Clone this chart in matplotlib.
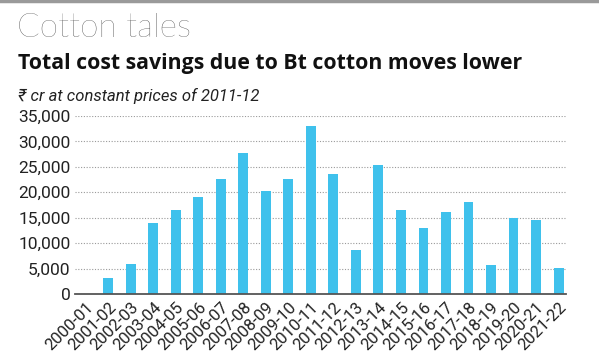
import matplotlib
matplotlib.use("Agg")
import matplotlib.pyplot as plt
from matplotlib.lines import Line2D

years = ["2000-01", "2001-02", "2002-03", "2003-04", "2004-05", "2005-06",
         "2006-07", "2007-08", "2008-09", "2009-10", "2010-11", "2011-12",
         "2012-13", "2013-14", "2014-15", "2015-16", "2016-17", "2017-18",
         "2018-19", "2019-20", "2020-21", "2021-22"]
savings = [0, 3100, 5900, 14000, 16500, 19100, 22700, 27700, 20300, 22700,
           33000, 23500, 8700, 25300, 16600, 13000, 16200, 18000, 5800,
           15000, 14500, 5200]
yticks = [0, 5000, 10000, 15000, 20000, 25000, 30000, 35000]
ytick_labels = ["0", "5,000", "10,000", "15,000", "20,000", "25,000", "30,000", "35,000"]

W, H = 599, 361
fig = plt.figure(figsize=(W / 100, H / 100), dpi=100)
fig.patch.set_facecolor("white")

narrow = ["Roboto", "DejaVu Sans"]

ax = fig.add_axes([74.5 / W, 1 - 294 / H, (566 - 74.5) / W, (294 - 116) / H])
x = list(range(len(years)))
ax.bar(x, savings, width=0.44, color="#3FC1EC", zorder=3)
ax.set_xlim(-0.5, 21.33)
ax.set_ylim(0, 35000)
ax.set_yticks(yticks)
ax.set_yticklabels(ytick_labels, fontsize=12.5, family=narrow, color="#222222")
ax.set_xticks(x)
ax.set_xticklabels(years, rotation=45, ha="right", rotation_mode="anchor",
                   fontsize=12, family=narrow, color="#222222")
ax.tick_params(axis="both", length=0, pad=3)
ax.tick_params(axis="x", pad=4)
for s in ["top", "right", "left"]:
    ax.spines[s].set_visible(False)
ax.spines["bottom"].set_color("#555555")
ax.spines["bottom"].set_linewidth(1.3)
ax.spines["bottom"].set_zorder(4)
ax.yaxis.grid(True, color="#9a9a9a", linestyle=(0, (1, 1.5)), linewidth=0.8, zorder=0)
ax.set_axisbelow(True)

# top border line
fig.add_artist(Line2D([0, 1], [1 - 1 / H, 1 - 1 / H], color="#9a9a9a", linewidth=2.5,
                      transform=fig.transFigure))

fig.text(17 / W, 1 - 37 / H, "Cotton tales", fontsize=24, fontweight="light",
         family=["Lato", "Roboto", "DejaVu Sans"], color="#3a3a3a", va="baseline")
fig.text(18 / W, 1 - 69.5 / H, "Total cost savings due to Bt cotton moves lower",
         fontsize=15.3, fontweight="bold", family=["Open Sans", "DejaVu Sans"],
         color="#111111", va="baseline")
fig.text(18 / W, 1 - 101 / H, "₹ cr at constant prices of 2011-12",
         fontsize=12, style="italic", family=narrow, color="#222222", va="baseline")

fig.savefig("out.png", dpi=100)
